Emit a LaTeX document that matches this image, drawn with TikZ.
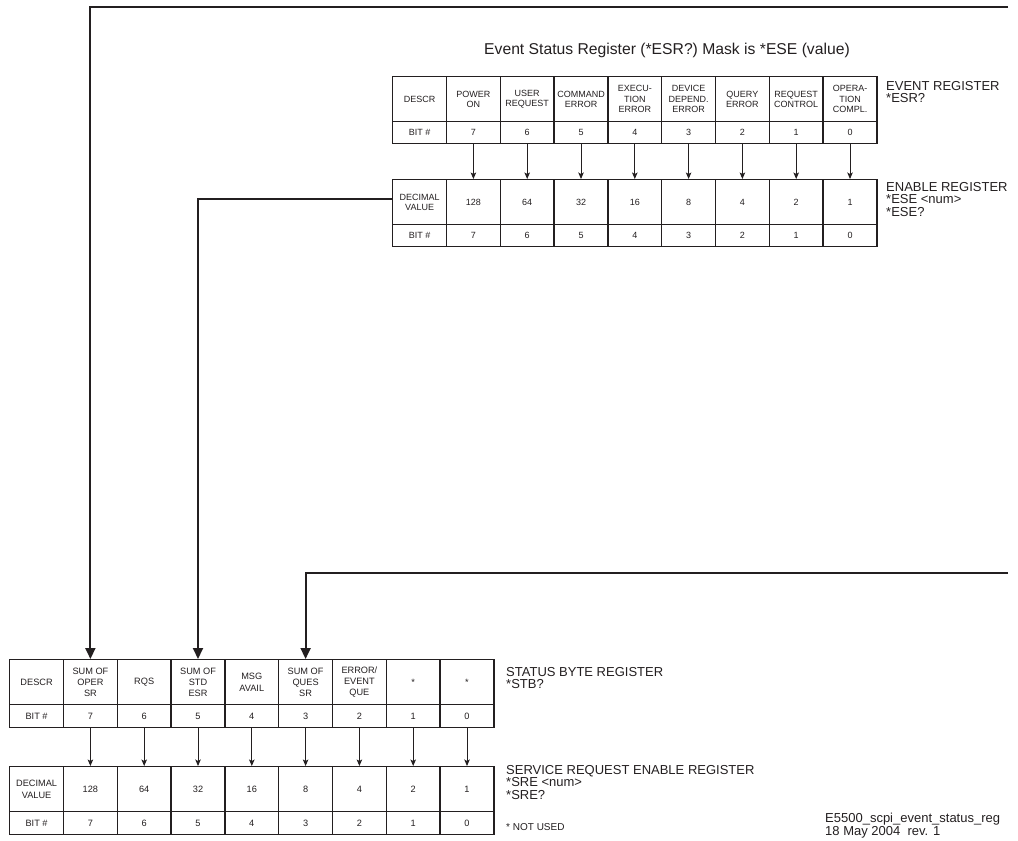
\documentclass[tikz,border=0pt]{standalone}
\usepackage{fontspec}
\setmainfont{Liberation Sans}
\usetikzlibrary{arrows.meta}
\definecolor{ink}{HTML}{231F20}
\begin{document}
\begin{tikzpicture}[x=1pt,y=-1pt,
  cell/.style={draw=ink, line width=1.4pt, minimum width=53.8pt, inner sep=0pt, anchor=north west, align=center, text=ink},
  desccell/.style={cell, minimum height=45pt},
  bitcell/.style={cell, minimum height=22pt},
  topfont/.style={font=\fontsize{9}{10.5}\selectfont},
  botfont/.style={font=\fontsize{9.2}{11.3}\selectfont},
  bigarrow/.style={line width=1.9pt, draw=ink, -{Triangle[length=11pt,width=10pt]}},
  smallarrow/.style={line width=0.9pt, draw=ink, -{Stealth[length=6.5pt,width=5.5pt,inset=1.5pt]}},
  lbl/.style={anchor=north west, align=left, inner sep=0pt, text=ink, font=\fontsize{13}{12.5}\selectfont},
]
\useasboundingbox (0,0) rectangle (1018,841);

% ---------- Event register (top) ----------
\foreach \t [count=\i from 0] in {{DESCR},{POWER\\ON},{USER\\REQUEST},{COMMAND\\ERROR},{EXECU-\\TION\\ERROR},{DEVICE\\DEPEND.\\ERROR},{QUERY\\ERROR},{REQUEST\\CONTROL},{OPERA-\\TION\\COMPL.}}
  \node[desccell, topfont] (ev-\i) at (392+53.8*\i,76) {\t};
\foreach \t [count=\i from 0] in {{BIT \#},7,6,5,4,3,2,1,0}
  \node[bitcell, topfont] (evb-\i) at (392+53.8*\i,121) {\t};

% ---------- Enable register (top) ----------
\foreach \t [count=\i from 0] in {{DECIMAL\\VALUE},128,64,32,16,8,4,2,1}
  \node[desccell, topfont] (en-\i) at (392+53.8*\i,179) {\t};
\foreach \t [count=\i from 0] in {{BIT \#},7,6,5,4,3,2,1,0}
  \node[bitcell, topfont] (enb-\i) at (392+53.8*\i,224) {\t};

\foreach \i in {1,...,8}
  \draw[smallarrow] (evb-\i.south) -- (en-\i.north);

% ---------- Status byte register (bottom) ----------
\foreach \t [count=\i from 0] in {{DESCR},{SUM OF\\OPER\\SR},{RQS},{SUM OF\\STD\\ESR},{MSG\\AVAIL},{SUM OF\\QUES\\SR},{ERROR/\\EVENT\\QUE},{*},{*}}
  \node[desccell, botfont] (sb-\i) at (9+53.8*\i,659) {\t};
\foreach \t [count=\i from 0] in {{BIT \#},7,6,5,4,3,2,1,0}
  \node[bitcell, botfont, minimum height=23pt] (sbb-\i) at (9+53.8*\i,704) {\t};

% ---------- Service request enable register (bottom) ----------
\foreach \t [count=\i from 0] in {{DECIMAL\\VALUE},128,64,32,16,8,4,2,1}
  \node[desccell, botfont] (sr-\i) at (9+53.8*\i,766) {\t};
\foreach \t [count=\i from 0] in {{BIT \#},7,6,5,4,3,2,1,0}
  \node[bitcell, botfont, minimum height=23pt] (srb-\i) at (9+53.8*\i,811) {\t};

\foreach \i in {1,...,8}
  \draw[smallarrow] (sbb-\i.south) -- (sr-\i.north);

% ---------- Big connectors ----------
\coordinate (r1) at (1008,7);
\coordinate (r2) at (1008,573);
\draw[bigarrow] (r1) -| (sb-1.north);
\draw[bigarrow] ([yshift=3pt]en-0.west) -| (sb-3.north);
\draw[bigarrow] (r2) -| (sb-5.north);

% ---------- Labels ----------
\node[text=ink, inner sep=0pt, font=\fontsize{15.7}{16}\selectfont] (title) at (667,50) {Event Status Register (*ESR?) Mask is *ESE (value)};
\node[lbl] (evlbl) at (886,81) {EVENT REGISTER\\*ESR?};
\node[lbl] (enlbl) at (886,182) {ENABLE REGISTER\\*ESE <num>\\*ESE?};
\node[lbl] (sblbl) at (506,667) {STATUS BYTE REGISTER\\*STB?};
\node[lbl] (srlbl) at (506,765) {SERVICE REQUEST ENABLE REGISTER\\*SRE <num>\\*SRE?};
\node[lbl, font=\fontsize{10}{10}\selectfont] (nu) at (506,823) {* NOT USED};
\node[lbl] (ref) at (825,813) {E5500\_scpi\_event\_status\_reg\\18 May 2004\ \ rev. 1};
\end{tikzpicture}
\end{document}
